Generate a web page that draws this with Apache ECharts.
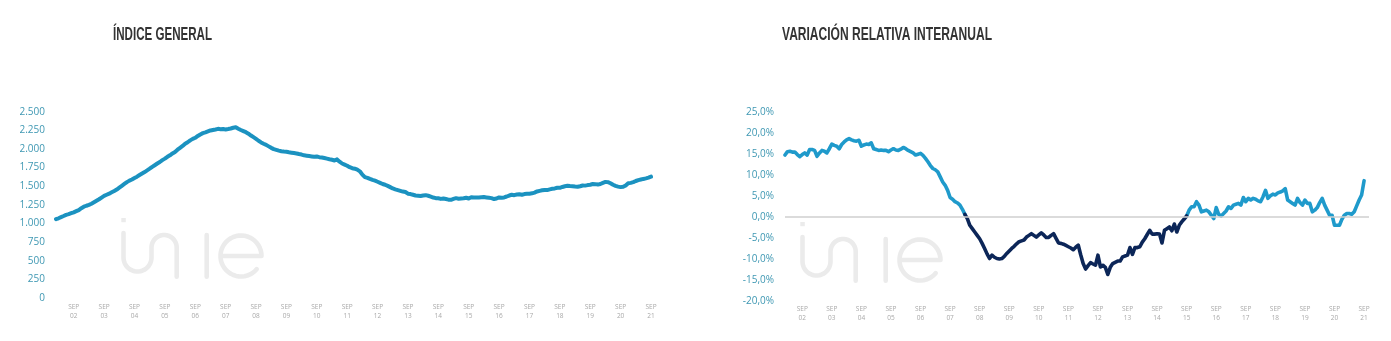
<!DOCTYPE html>
<html>
<head>
<meta charset="utf-8">
<script src="https://cdn.jsdelivr.net/npm/echarts@6/dist/echarts.min.js"></script>
<style>
  html, body { margin: 0; padding: 0; background: #ffffff; }
  #c { width: 1391px; height: 341px; }
</style>
</head>
<body>
<div id="c"></div>
<script>
// Serie mensual, de febrero de 2002 a septiembre de 2021
const primerMes = [2002, 2];

// Índice general (valor medio)
const indiceGeneral = [
  1058, 1070, 1085, 1100, 1116, 1125, 1138, 1150, 1165, 1180, 1205,            // 2002
  1225, 1238, 1250, 1265, 1285, 1305, 1325, 1348, 1370, 1385, 1400, 1418,      // 2003
  1435, 1455, 1480, 1505, 1530, 1555, 1575, 1590, 1610, 1628, 1650, 1670,      // 2004
  1690, 1712, 1735, 1760, 1782, 1805, 1825, 1850, 1870, 1895, 1915, 1940,      // 2005
  1960, 1990, 2015, 2040, 2070, 2090, 2115, 2135, 2150, 2175, 2195, 2212,      // 2006
  2222, 2235, 2248, 2255, 2262, 2270, 2265, 2268, 2262, 2268, 2275, 2285,      // 2007
  2292, 2272, 2255, 2240, 2225, 2205, 2180, 2158, 2135, 2110, 2088, 2070,      // 2008
  2055, 2035, 2015, 1998, 1988, 1978, 1970, 1965, 1962, 1955, 1950, 1945,      // 2009
  1940, 1932, 1925, 1915, 1910, 1905, 1900, 1895, 1898, 1890, 1885, 1878,      // 2010
  1870, 1862, 1855, 1845, 1860, 1830, 1805, 1790, 1775, 1755, 1742, 1735,      // 2011
  1722, 1700, 1655, 1622, 1612, 1598, 1585, 1575, 1560, 1545, 1530, 1520,      // 2012
  1505, 1488, 1470, 1458, 1448, 1438, 1428, 1422, 1400, 1395, 1385, 1375,      // 2013
  1372, 1368, 1375, 1380, 1372, 1360, 1348, 1340, 1338, 1330, 1335, 1328,      // 2014
  1320, 1318, 1330, 1340, 1332, 1335, 1338, 1345, 1335, 1352, 1348, 1350,      // 2015
  1348, 1352, 1355, 1350, 1345, 1340, 1328, 1335, 1350, 1345, 1350, 1362,      // 2016
  1375, 1385, 1380, 1388, 1392, 1385, 1395, 1398, 1400, 1405, 1415, 1430,      // 2017
  1438, 1445, 1450, 1448, 1458, 1465, 1470, 1480, 1478, 1490, 1500, 1505,      // 2018
  1502, 1500, 1495, 1492, 1500, 1510, 1508, 1515, 1520, 1530, 1528, 1522,      // 2019
  1530, 1545, 1558, 1555, 1540, 1520, 1505, 1495, 1488, 1492, 1510, 1540,      // 2020
  1545, 1555, 1570, 1582, 1590, 1598, 1605, 1615, 1628                         // 2021
];

// Variación relativa interanual (%)
const variacion = [
  14.7, 15.5, 15.6, 15.4, 15.4, 14.8, 14.3, 14.8, 15.2, 14.7, 16.0,                  // 2002
  16.0, 15.8, 14.4, 15.2, 15.8, 15.6, 15.2, 16.2, 17.3, 17.0, 16.8, 16.2,            // 2003
  17.2, 17.8, 18.3, 18.6, 18.3, 18.1, 18.0, 18.2, 16.8, 17.1, 17.3, 17.2,            // 2004
  17.6, 16.2, 16.0, 15.8, 15.9, 15.8, 15.8, 15.5, 15.9, 16.2, 15.9, 15.8,            // 2005
  16.1, 16.5, 16.2, 15.8, 15.5, 15.2, 14.7, 14.9, 15.1, 14.6, 13.9, 13.1,            // 2006
  12.2, 11.5, 11.2, 10.7, 9.5, 8.3, 7.5, 6.3, 4.6, 4.2, 3.6, 3.3,                    // 2007
  2.8, 1.8, 0.6, -0.4, -2.0, -2.8, -3.6, -4.4, -5.2, -6.3, -7.5, -8.8,               // 2008
  -9.9, -9.1, -9.6, -9.9, -10.0, -9.9, -9.4, -8.7, -8.1, -7.5, -7.0, -6.4,           // 2009
  -5.9, -5.7, -5.5, -4.8, -4.4, -4.0, -4.4, -4.8, -4.3, -3.8, -4.3, -4.9,            // 2010
  -4.9, -4.4, -4.0, -5.1, -6.2, -6.3, -6.5, -6.8, -7.1, -7.4, -7.8, -7.2,            // 2011
  -6.7, -9.0, -11.1, -12.4, -11.6, -10.9, -11.2, -11.5, -9.1, -11.9, -11.5, -12.0,   // 2012
  -13.7, -12.0, -11.1, -10.8, -10.5, -10.5, -9.5, -9.3, -9.1, -7.3, -8.9, -7.3,      // 2013
  -7.3, -7.1, -6.0, -5.2, -4.2, -3.2, -4.1, -4.1, -4.0, -4.1, -6.2, -3.2,            // 2014
  -2.8, -2.4, -3.3, -1.7, -3.6, -2.0, -1.2, -0.5, 0.2, 1.6, 2.4, 2.4,                // 2015
  3.6, 2.8, 1.2, 1.4, 1.6, 1.2, 0.4, -0.4, 2.2, 0.6, 0.2, 0.8,                       // 2016
  1.4, 2.4, 2.0, 2.8, 3.0, 3.2, 2.8, 4.6, 3.6, 4.4, 4.0, 4.4,                        // 2017
  4.2, 3.8, 3.6, 4.8, 6.3, 4.4, 5.0, 5.4, 5.2, 5.7, 5.9, 6.2,                        // 2018
  6.7, 4.0, 3.6, 3.2, 2.8, 4.4, 3.4, 2.8, 4.0, 3.2, 3.2, 1.2,                        // 2019
  1.6, 2.2, 3.4, 4.4, 2.8, 1.6, 0.4, 0.4, -2.0, -2.0, -2.0, -0.6,                    // 2020
  0.4, 0.8, 0.8, 0.6, 1.2, 2.6, 4.0, 5.2, 8.6                                        // 2021
];

// Tramo de la variación dibujado en azul oscuro (inclusive)
const tramoOscuro = ['2008-03', '2015-09'];

// Escalas de los ejes verticales: [mínimo, máximo, paso]
const escalaIndice = [0, 2500, 250];
const escalaVariacion = [-20, 25, 5];

const tituloIndice = 'ÍNDICE GENERAL';
const tituloVariacion = 'VARIACIÓN RELATIVA INTERANUAL';
const nombreMes = 'SEP';

// Colores
const AZUL = '#1b92c0';
const AZUL_CLARO = '#1f9acb';
const AZUL_OSCURO = '#0c2658';
const GRIS_LOGO = '#ebebeb';

// Etiquetas de mes "AAAA-MM"
function meses(n) {
  const out = [];
  let [a, m] = primerMes;
  for (let i = 0; i < n; i++) {
    out.push(a + '-' + String(m).padStart(2, '0'));
    m++; if (m > 12) { m = 1; a++; }
  }
  return out;
}
const mesesIndice = meses(indiceGeneral.length);
// el eje de la variación se alarga dos meses para que la línea de cero sobresalga un poco
const mesesVariacion = meses(variacion.length + 2);

const iOsc0 = mesesVariacion.indexOf(tramoOscuro[0]);
const iOsc1 = mesesVariacion.indexOf(tramoOscuro[1]);
const varClara = variacion.map((v, i) => (i <= iOsc0 || i >= iOsc1) ? v : null);
const varOscura = variacion.map((v, i) => (i >= iOsc0 && i <= iOsc1) ? v : null);

const miles = v => String(v).replace(/\B(?=(\d{3})+(?!\d))/g, '.');
const porcentaje = v => v.toFixed(1).replace('.', ',') + '%';

const FUENTE = '"Open Sans", "Noto Sans", sans-serif';

function ejeX(datos, margen) {
  return {
    type: 'category',
    data: datos,
    boundaryGap: false,
    axisLine: { show: false },
    axisTick: { show: false },
    splitLine: { show: false },
    axisLabel: {
      interval: (i, v) => v.endsWith('-09'),
      formatter: v => nombreMes + '\n' + v.slice(2, 4),
      color: '#a9a9a9',
      fontFamily: FUENTE,
      fontSize: 6.5,
      lineHeight: 9,
      margin: margen
    }
  };
}

function ejeY(escala, fmt) {
  return {
    type: 'value',
    min: escala[0], max: escala[1], interval: escala[2],
    axisLine: { show: false },
    axisTick: { show: false },
    splitLine: { show: false },
    axisLabel: {
      formatter: fmt,
      color: '#3f98b3',
      fontFamily: FUENTE,
      fontSize: 10,
      margin: 11
    }
  };
}

function linea(datos, color, ancho, xi, yi) {
  return {
    type: 'line',
    data: datos,
    xAxisIndex: xi, yAxisIndex: yi,
    showSymbol: false,
    symbol: 'none',
    connectNulls: false,
    silent: true,
    animation: false,
    lineStyle: { color: color, width: ancho, cap: 'round', join: 'round' }
  };
}

// Logotipo "imie" en trazo fino, como marca de agua.
// Cada trazo es una polilínea; los tramos curvos se aproximan con arcos.
function logo(x, y) {
  const G = Math.PI / 180;
  const arco = (cx, cy, r, g0, g1) => {
    const pts = [];
    const n = Math.max(8, Math.round(Math.abs(g1 - g0) / 8));
    for (let k = 0; k <= n; k++) {
      const a = (g0 + (g1 - g0) * k / n) * G;
      pts.push([cx + r * Math.cos(a), cy + r * Math.sin(a)]);
    }
    return pts;
  };
  const trazo = pts => ({
    type: 'polyline', shape: { points: pts },
    style: { fill: null, stroke: GRIS_LOGO, lineWidth: 4.6, lineCap: 'round', lineJoin: 'round' }
  });
  return {
    type: 'group', x: x, y: y, silent: true,
    children: [
      { type: 'rect', shape: { x: 1.3, y: 0, width: 4.5, height: 4.2 }, style: { fill: GRIS_LOGO } },
      // i + m: bajada, curva inferior, subida y arco superior
      trazo([[3.5, 15]].concat(arco(17.5, 39.5, 14, 180, 0), arco(44.1, 29.6, 12.6, 180, 360), [[56.7, 58.7]])),
      // i sin punto
      trazo([[86.7, 17], [86.7, 58.7]]),
      // e: barra central y vuelta casi completa
      trazo([[100.5, 38]].concat(arco(121, 38, 20.5, 0, -320)))
    ]
  };
}

// Títulos en letra estrecha: se comprime la fuente hasta el ancho indicado
const FUENTE_TITULO = '"Liberation Sans", Arial, sans-serif';
const medidor = document.createElement('canvas').getContext('2d');
function titulo(texto, x, ancho) {
  medidor.font = 'bold 19px ' + FUENTE_TITULO;
  const escala = ancho / medidor.measureText(texto).width;
  return {
    type: 'text', x: x, y: 35, scaleX: escala, silent: true,
    style: {
      text: texto,
      fill: '#333333',
      fontFamily: FUENTE_TITULO,
      fontSize: 19,
      fontWeight: 'bold',
      verticalAlign: 'middle'
    }
  };
}

const chart = echarts.init(document.getElementById('c'), null, { renderer: 'canvas' });
chart.setOption({
  animation: false,
  backgroundColor: '#ffffff',
  grid: [
    { left: 56, right: 740, top: 111.7, bottom: 43 },
    { left: 785, right: 22, top: 111.7, bottom: 40 }
  ],
  xAxis: [
    Object.assign(ejeX(mesesIndice, 5), { gridIndex: 0 }),
    Object.assign(ejeX(mesesVariacion, 3.5), { gridIndex: 1 })
  ],
  yAxis: [
    Object.assign(ejeY(escalaIndice, miles), { gridIndex: 0 }),
    Object.assign(ejeY(escalaVariacion, porcentaje), { gridIndex: 1 })
  ],
  graphic: [
    logo(120, 218),
    logo(799, 222),
    titulo(tituloIndice, 113, 99),
    titulo(tituloVariacion, 782, 210)
  ],
  series: [
    linea(indiceGeneral, AZUL, 4, 0, 0),
    Object.assign(linea(varClara, AZUL_CLARO, 3.6, 1, 1), {
      markLine: {
        silent: true, symbol: 'none', label: { show: false },
        lineStyle: { color: '#cfcfcf', width: 1.5, type: 'solid' },
        data: [{ yAxis: 0 }]
      },
      z: 3
    }),
    Object.assign(linea(varOscura, AZUL_OSCURO, 3.6, 1, 1), { z: 4 })
  ]
});
</script>
</body>
</html>
